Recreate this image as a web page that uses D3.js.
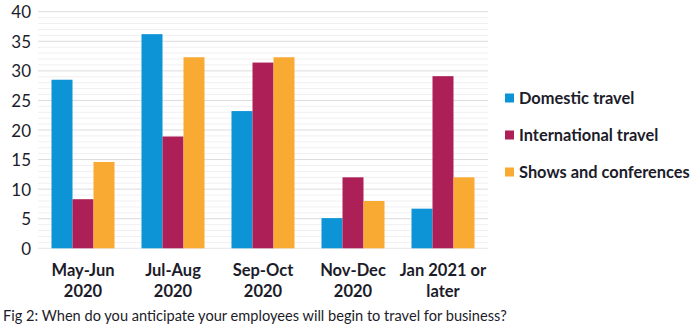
<!DOCTYPE html>
<html>
<head>
<meta charset="utf-8">
<script src="https://cdn.jsdelivr.net/npm/d3@7"></script>
<style>
  html, body { margin: 0; padding: 0; background: #fff; }
  svg { display: block; font-family: Lato, "Open Sans", sans-serif; }
</style>
</head>
<body>
<svg id="chart" width="700" height="328"></svg>
<script>
// Survey periods (two-line labels) and series values (percent of respondents)
const categories = ["May-Jun|2020", "Jul-Aug|2020", "Sep-Oct|2020", "Nov-Dec|2020", "Jan 2021 or|later"];
const seriesNames = ["Domestic travel", "International travel", "Shows and conferences"];
const domestic = [28.5, 36.2, 23.2, 5.1, 6.7];
const international = [8.3, 18.9, 31.4, 12.0, 29.1];
const shows = [14.6, 32.3, 32.3, 8.0, 12.0];
const yTicks = [0, 5, 10, 15, 20, 25, 30, 35, 40];
const caption = "Fig 2: When do you anticipate your employees will begin to travel for business?";

const colors = ["#0c94d6", "#ad1f57", "#f9aa33"];
const seriesValues = [domestic, international, shows];

const svg = d3.select("#chart");
const plot = { left: 38, right: 488, top: 11.7, bottom: 248.3 };

const x = d3.scaleBand().domain(categories).range([plot.left, plot.right]).paddingInner(0.3).paddingOuter(0.15);
const xs = d3.scaleBand().domain(seriesNames).range([0, x.bandwidth()]);
const y = d3.scaleLinear().domain([0, 40]).range([plot.bottom, plot.top]);

// faint minor grid every unit
svg.append("g").selectAll("line").data(d3.range(1, 40).filter(v => v % 5 !== 0)).join("line")
  .attr("x1", plot.left).attr("x2", plot.right)
  .attr("y1", d => y(d)).attr("y2", d => y(d))
  .attr("stroke", "#f0f0f3").attr("stroke-width", 1);

// major grid every 5
svg.append("g").selectAll("line").data(yTicks.filter(v => v > 0)).join("line")
  .attr("x1", plot.left).attr("x2", plot.right)
  .attr("y1", d => y(d)).attr("y2", d => y(d))
  .attr("stroke", "#dcdcdf").attr("stroke-width", 1);

// baseline
svg.append("line").attr("x1", plot.left).attr("x2", plot.right)
  .attr("y1", y(0)).attr("y2", y(0)).attr("stroke", "#e6e6ea");

// y axis labels
const yAxis = d3.axisLeft(y).tickValues(yTicks).tickSize(0).tickPadding(6);
const gy = svg.append("g").attr("transform", `translate(${plot.left - 1},0)`).call(yAxis);
gy.select(".domain").remove();
gy.selectAll("text").attr("font-size", 17).attr("fill", "#1c1c2a")
  .attr("font-family", "Lato, sans-serif").attr("dy", "0.36em");

// bars
const groups = svg.append("g").selectAll("g").data(categories).join("g")
  .attr("transform", d => `translate(${x(d)},0)`);
groups.selectAll("rect").data((c, i) => seriesNames.map((s, k) => ({ s, k, v: seriesValues[k][i] }))).join("rect")
  .attr("x", d => xs(d.s))
  .attr("width", xs.bandwidth())
  .attr("y", d => y(d.v))
  .attr("height", d => y(0) - y(d.v))
  .attr("fill", d => colors[d.k]);

// x category labels
const xl = svg.append("g").selectAll("text").data(categories).join("text")
  .attr("x", d => x(d) + x.bandwidth() / 2)
  .attr("y", 276)
  .attr("text-anchor", "middle")
  .attr("font-size", 16.5).attr("font-weight", 700).attr("fill", "#1c1c2a");
xl.selectAll("tspan").data(d => d.split("|")).join("tspan")
  .attr("x", function () { return d3.select(this.parentNode).attr("x"); })
  .attr("dy", (d, i) => i === 0 ? 0 : 21)
  .text(d => d);

// legend
const legend = svg.append("g").selectAll("g").data(seriesNames).join("g")
  .attr("transform", (d, i) => `translate(505,${98 + i * 37})`);
legend.append("rect").attr("x", 0).attr("y", -4.5).attr("width", 9).attr("height", 9)
  .attr("fill", (d, i) => colors[i]);
legend.append("text").attr("x", 14).attr("y", 0).attr("dy", "0.35em")
  .attr("font-size", 16.4).attr("font-weight", 700).attr("fill", "#1c1c2a")
  .text(d => d);

// caption
svg.append("text").attr("x", 3).attr("y", 321)
  .attr("font-size", 14.6).attr("fill", "#1c1c2a")
  .text(caption);
</script>
</body>
</html>
